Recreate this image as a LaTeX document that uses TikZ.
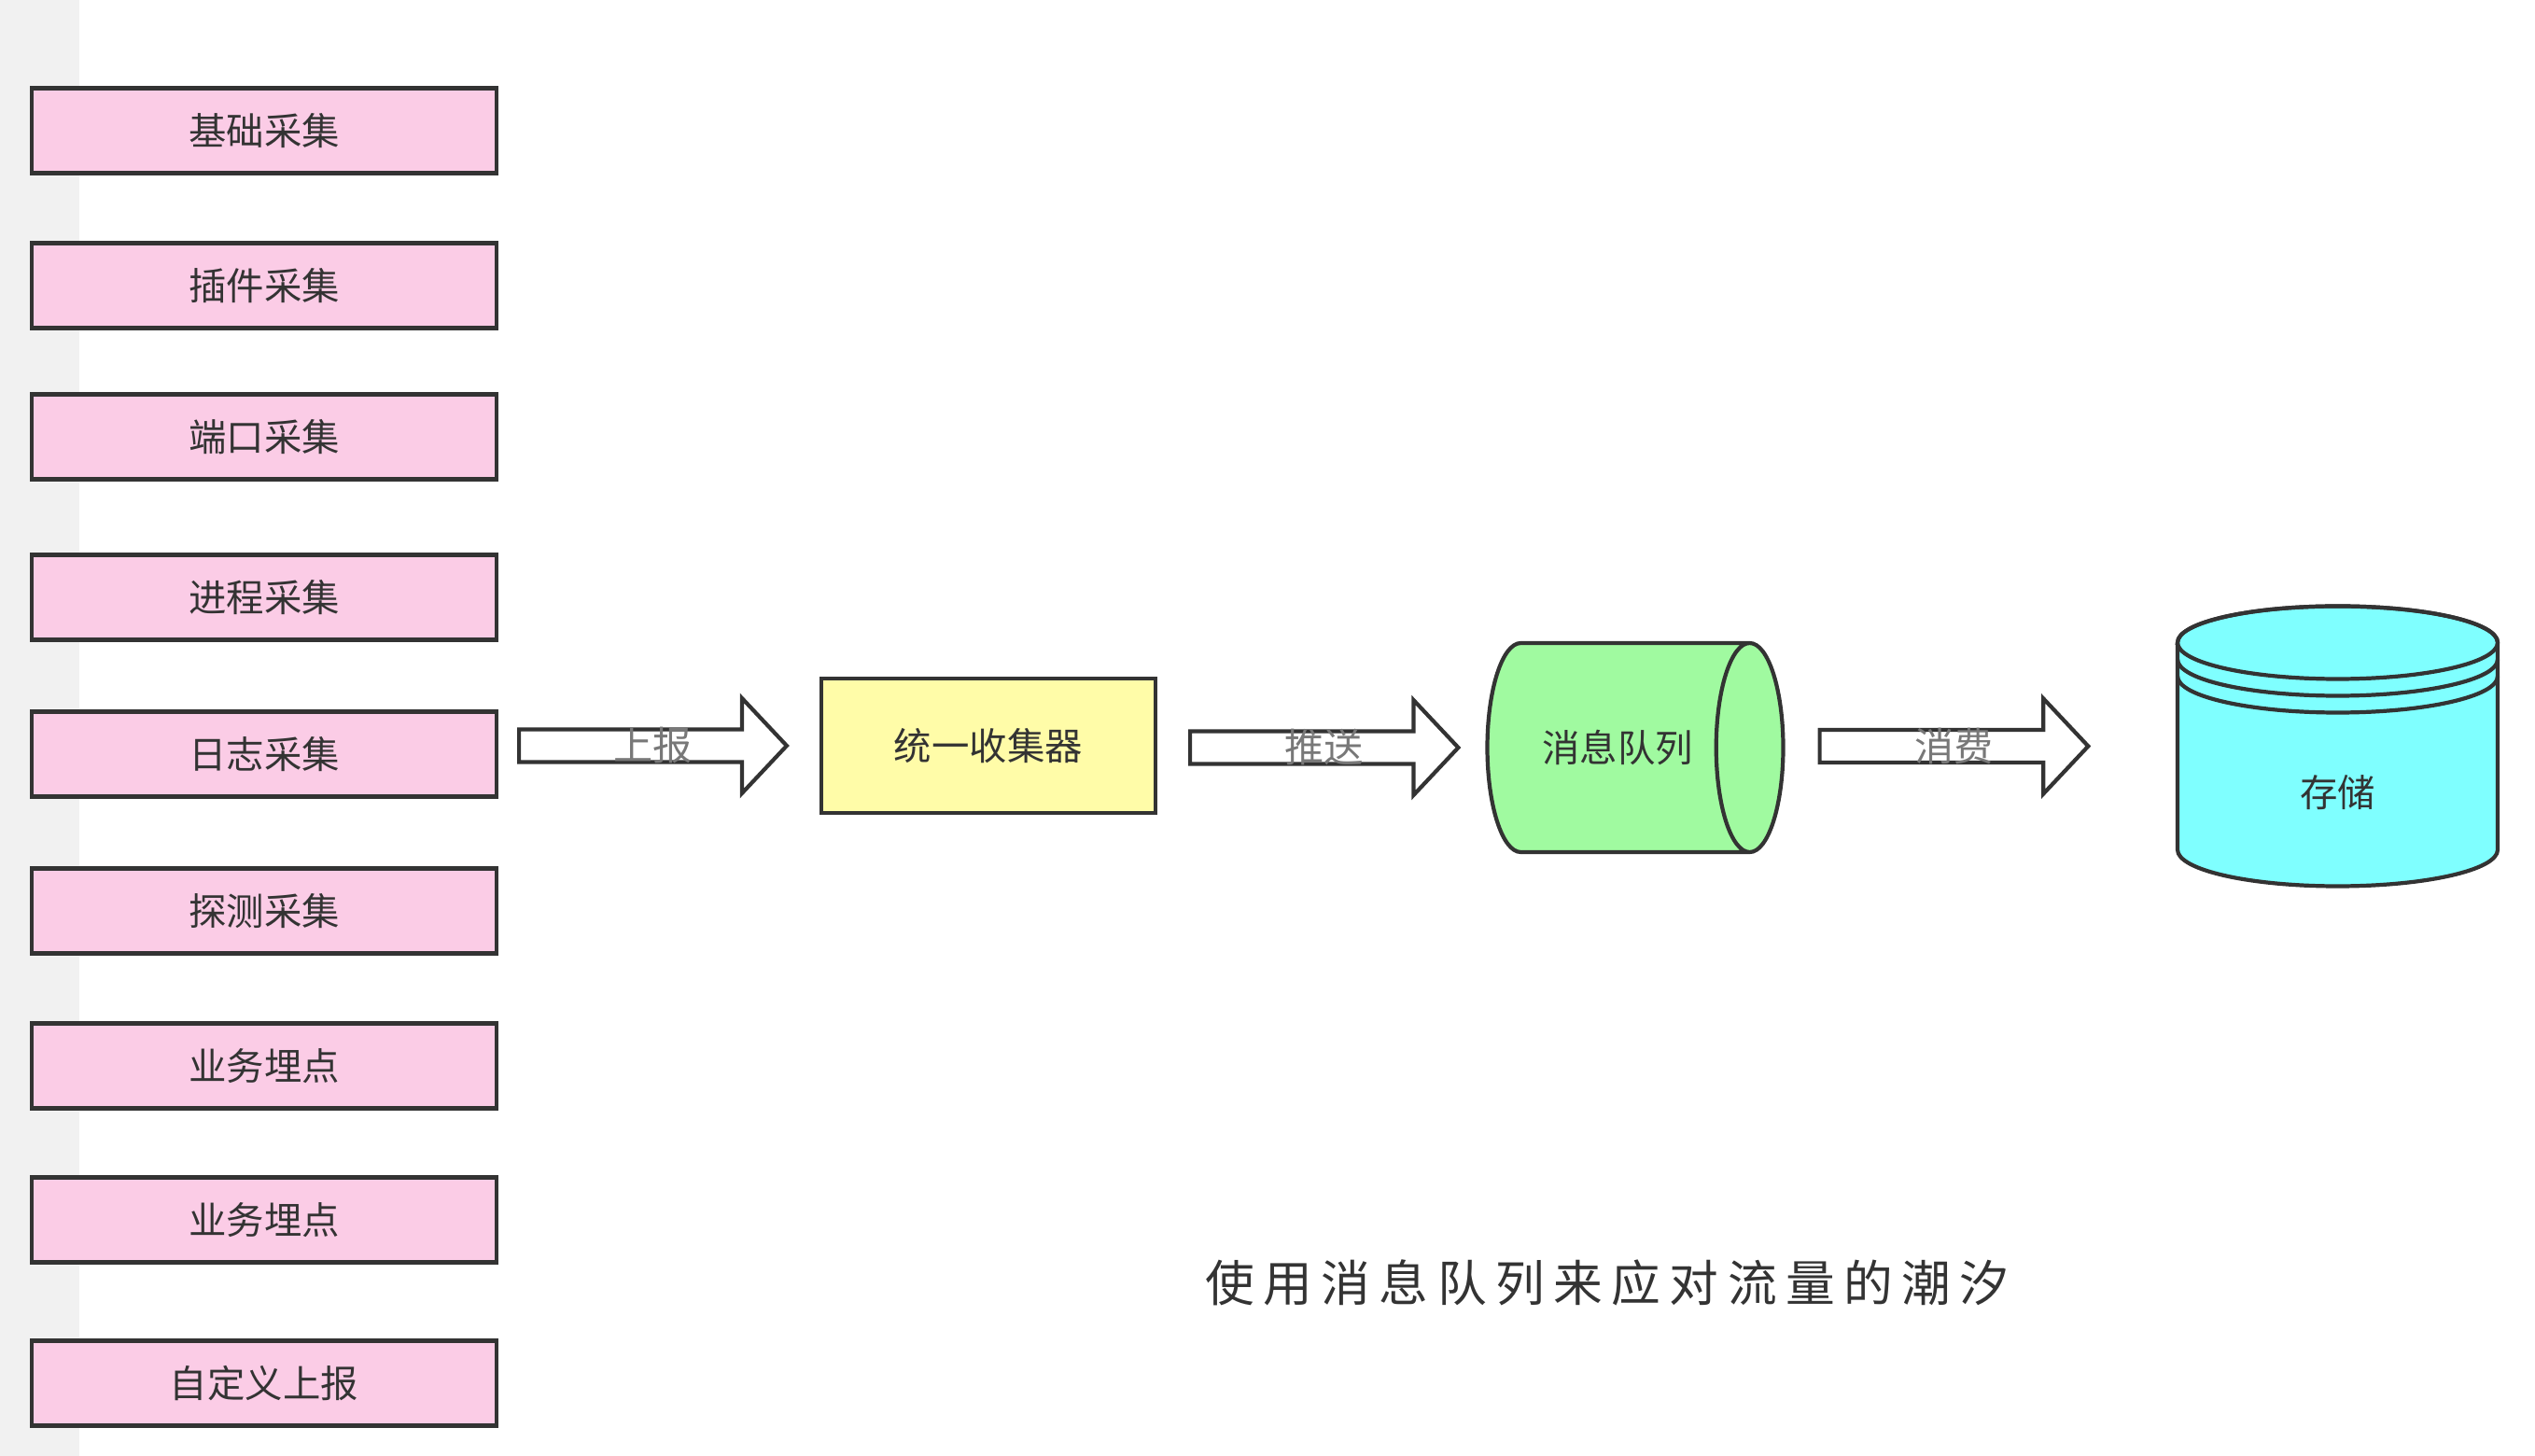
\documentclass[tikz,border=0pt]{standalone}
\usepackage{fontspec}
\usepackage{tikz}
\setmainfont{Noto Sans CJK SC}
\newfontfamily\capfont[LetterSpace=18]{Noto Sans CJK SC}
\usetikzlibrary{shapes.geometric, calc, positioning}
\definecolor{mydark}{RGB}{51,51,51}
\definecolor{mygray}{RGB}{120,120,120}
\definecolor{srcpink}{RGB}{251,204,230}
\definecolor{colyellow}{RGB}{255,252,168}
\definecolor{mqgreen}{RGB}{160,250,160}
\definecolor{storecyan}{RGB}{127,255,255}
\definecolor{stripgray}{RGB}{241,241,241}
\tikzset{
  srcblock/.style={rectangle, draw=mydark, fill=srcpink,
    minimum width=4.98cm, minimum height=0.91cm, inner sep=0pt,
    font=\fontsize{11.5}{14}\selectfont, text=mydark, line width=1.2pt},
  colblock/.style={rectangle, draw=mydark, fill=colyellow,
    minimum width=3.58cm, minimum height=1.44cm, inner sep=0pt,
    font=\fontsize{11.5}{14}\selectfont, text=mydark, line width=1.2pt},
  mqcyl/.style={cylinder, draw=mydark, cylinder uses custom fill,
    cylinder body fill=mqgreen, cylinder end fill=mqgreen,
    minimum height=3.17cm, minimum width=2.24cm, aspect=1.9, inner sep=0pt,
    font=\fontsize{11.5}{14}\selectfont, text=mydark, line width=1.2pt},
  storebox/.style={rectangle, minimum width=3.43cm, minimum height=2.99cm, inner sep=0pt},
  storeline/.style={draw=mydark, line width=1.2pt},
  storetext/.style={font=\fontsize{11.5}{14}\selectfont, text=mydark},
  fatarrow/.style={draw=mydark, fill=white, line width=1.2pt, line join=miter},
  arrowtext/.style={font=\fontsize{12}{14}\selectfont, text=mygray},
  captext/.style={font=\capfont\fontsize{15}{18}\selectfont, text=mydark}
}
% hollow block arrow: from node, to node, label, gap at start, gap at end
\newcommand{\fatarrow}[5]{%
  \draw[fatarrow] let \p1=($(#1)+(#4,0)$), \p2=($(#2)+(-#5,0)$) in
    (\x1,\y2+1.75mm) -- (\x2-4.8mm,\y2+1.75mm) -- (\x2-4.8mm,\y2+5.1mm) -- (\x2,\y2)
    -- (\x2-4.8mm,\y2-5.1mm) -- (\x2-4.8mm,\y2-1.75mm) -- (\x1,\y2-1.75mm) -- cycle;
  \path let \p1=($(#1)+(#4,0)$), \p2=($(#2)+(-#5,0)$) in
    node[arrowtext] at ({0.5*\x1+0.5*\x2},\y2) {#3};
}

\begin{document}
\begin{tikzpicture}
  \useasboundingbox (0,0) rectangle (27.16,-15.60);
  % left strip
  \fill[stripgray] (0,0) rectangle (0.85,-15.60);
  % sources
  \foreach \i/\y/\txt in {1/-1.40/基础采集, 2/-3.06/插件采集, 3/-4.68/端口采集,
      4/-6.40/进程采集, 5/-8.08/日志采集, 6/-9.76/探测采集,
      7/-11.42/业务埋点, 8/-13.07/业务埋点, 9/-14.82/自定义上报}
    \node[srcblock] (src\i) at (2.83,\y) {\txt};
  % pipeline
  \node[colblock] (coll) at (10.59,-7.99) {统一收集器};
  \node[mqcyl] (mq) at (17.33,-8.01) {消息队列};
  \node[storebox] (store) at (25.045,-7.995) {};
  \begin{scope}[shift={(store.center)}]
    \filldraw[storeline, fill=storecyan] (-1.715,1.11) -- (-1.715,-1.11)
      arc[start angle=180, end angle=360, x radius=1.715cm, y radius=0.39cm]
      -- (1.715,1.11)
      arc[start angle=0, end angle=180, x radius=1.715cm, y radius=0.39cm] -- cycle;
    \draw[storeline] (0,1.11) ellipse [x radius=1.715cm, y radius=0.39cm];
    \draw[storeline] (-1.715,0.93) arc[start angle=180, end angle=360, x radius=1.715cm, y radius=0.39cm];
    \draw[storeline] (-1.715,0.75) arc[start angle=180, end angle=360, x radius=1.715cm, y radius=0.39cm];
  \end{scope}
  \node[storetext] (storelbl) at ($(store.center)+(0,-0.5)$) {存储};
  % arrows
  \fatarrow{src5.east}{coll.west}{上报}{0.22}{0.35}
  \fatarrow{coll.east}{mq.west}{推送}{0.35}{0.29}
  \fatarrow{mq.east}{store.west}{消费}{0.37}{0.95}
  % caption
  \node[captext] (cap) at (17.22,-13.74) {使用消息队列来应对流量的潮汐};
\end{tikzpicture}
\end{document}
